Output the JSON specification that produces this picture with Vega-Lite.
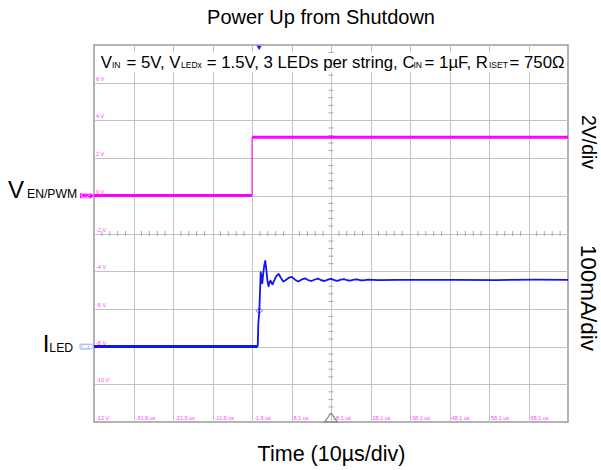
{
  "$schema": "https://vega.github.io/schema/vega-lite/v6.json",
  "width": 474,
  "height": 377,
  "autosize": {"type": "none"},
  "padding": {"left": 94, "top": 45, "right": 33, "bottom": 48},
  "background": "white",
  "config": {"font": "Liberation Sans", "view": {"stroke": "#9a9a9a", "strokeWidth": 1.5}},
  "title": {"text": "Power Up from Shutdown", "fontSize": 20, "fontWeight": "normal", "color": "black", "anchor": "middle", "offset": 17, "dx": -10, "font": "Liberation Sans"},
  "datasets": {
    "box": [{"t": -40.6, "t2": 76.8, "v": 6.55, "v2": 7.6}],
    "mag": [
      {"t": -41.9, "v": 0.02, "p": "a"}, {"t": -1.9, "v": 0.02, "p": "a"},
      {"t": -1.9, "v": 3.1, "p": "b"}, {"t": 78.1, "v": 3.1, "p": "b"}
    ],
    "magStep": [{"t": -1.9, "v": 0.02, "v2": 3.1}],
    "ledBase": [{"t": -41.9, "v": -8.0}, {"t": -0.45, "v": -8.0}],
    "ledRise": [
      {"t": -0.45, "v": -8.0}, {"t": -0.3, "v": -6.8}, {"t": -0.05, "v": -6.1}, {"t": 0.15, "v": -5.0},
      {"t": 0.3, "v": -4.05}, {"t": 0.5, "v": -4.3}, {"t": 0.7, "v": -4.65}, {"t": 0.95, "v": -4.1},
      {"t": 1.2, "v": -3.7}, {"t": 1.45, "v": -3.45}, {"t": 1.7, "v": -3.85}, {"t": 2.0, "v": -4.5},
      {"t": 2.3, "v": -4.8}, {"t": 2.6, "v": -4.55}, {"t": 2.8, "v": -4.5}, {"t": 3.05, "v": -4.62},
      {"t": 3.3, "v": -4.7}, {"t": 3.7, "v": -4.5}, {"t": 4.3, "v": -4.25}, {"t": 4.85, "v": -4.15},
      {"t": 5.4, "v": -4.35}, {"t": 6.0, "v": -4.55}, {"t": 6.6, "v": -4.48}, {"t": 7.4, "v": -4.35},
      {"t": 8.15, "v": -4.3}, {"t": 9.0, "v": -4.45}, {"t": 9.8, "v": -4.55}, {"t": 10.6, "v": -4.45},
      {"t": 11.5, "v": -4.38}, {"t": 12.3, "v": -4.47}, {"t": 13.15, "v": -4.52}, {"t": 14.0, "v": -4.44},
      {"t": 14.8, "v": -4.39}, {"t": 15.6, "v": -4.48}, {"t": 16.45, "v": -4.52}, {"t": 17.3, "v": -4.45},
      {"t": 18.1, "v": -4.41}, {"t": 19.0, "v": -4.48}, {"t": 19.75, "v": -4.51}, {"t": 20.6, "v": -4.45},
      {"t": 21.4, "v": -4.42}, {"t": 22.2, "v": -4.48}, {"t": 23.0, "v": -4.5}, {"t": 23.9, "v": -4.45},
      {"t": 24.7, "v": -4.43}, {"t": 25.5, "v": -4.48}, {"t": 26.3, "v": -4.49}, {"t": 27.5, "v": -4.45},
      {"t": 30.0, "v": -4.47}, {"t": 35.0, "v": -4.46}, {"t": 40.0, "v": -4.46}, {"t": 50.0, "v": -4.46},
      {"t": 60.0, "v": -4.47}, {"t": 70.0, "v": -4.45}, {"t": 78.1, "v": -4.46}
    ],
    "diamond": [{"t": -0.05, "v": -6.1}],
    "mtx": [
      {"t": -39.9, "v": -2}, {"t": -37.9, "v": -2}, {"t": -35.9, "v": -2}, {"t": -33.9, "v": -2},
      {"t": -29.9, "v": -2}, {"t": -27.9, "v": -2}, {"t": -25.9, "v": -2}, {"t": -23.9, "v": -2},
      {"t": -19.9, "v": -2}, {"t": -17.9, "v": -2}, {"t": -15.9, "v": -2}, {"t": -13.9, "v": -2},
      {"t": -9.9, "v": -2}, {"t": -7.9, "v": -2}, {"t": -5.9, "v": -2}, {"t": -3.9, "v": -2},
      {"t": 0.1, "v": -2}, {"t": 2.1, "v": -2}, {"t": 4.1, "v": -2}, {"t": 6.1, "v": -2},
      {"t": 10.1, "v": -2}, {"t": 12.1, "v": -2}, {"t": 14.1, "v": -2}, {"t": 16.1, "v": -2},
      {"t": 20.1, "v": -2}, {"t": 22.1, "v": -2}, {"t": 24.1, "v": -2}, {"t": 26.1, "v": -2},
      {"t": 30.1, "v": -2}, {"t": 32.1, "v": -2}, {"t": 34.1, "v": -2}, {"t": 36.1, "v": -2},
      {"t": 40.1, "v": -2}, {"t": 42.1, "v": -2}, {"t": 44.1, "v": -2}, {"t": 46.1, "v": -2},
      {"t": 50.1, "v": -2}, {"t": 52.1, "v": -2}, {"t": 54.1, "v": -2}, {"t": 56.1, "v": -2},
      {"t": 60.1, "v": -2}, {"t": 62.1, "v": -2}, {"t": 64.1, "v": -2}, {"t": 66.1, "v": -2},
      {"t": 70.1, "v": -2}, {"t": 72.1, "v": -2}, {"t": 74.1, "v": -2}, {"t": 76.1, "v": -2}
    ],
    "mty": [
      {"t": 18.1, "v": -11.6}, {"t": 18.1, "v": -11.2}, {"t": 18.1, "v": -10.8}, {"t": 18.1, "v": -10.4},
      {"t": 18.1, "v": -9.6}, {"t": 18.1, "v": -9.2}, {"t": 18.1, "v": -8.8}, {"t": 18.1, "v": -8.4},
      {"t": 18.1, "v": -7.6}, {"t": 18.1, "v": -7.2}, {"t": 18.1, "v": -6.8}, {"t": 18.1, "v": -6.4},
      {"t": 18.1, "v": -5.6}, {"t": 18.1, "v": -5.2}, {"t": 18.1, "v": -4.8}, {"t": 18.1, "v": -4.4},
      {"t": 18.1, "v": -3.6}, {"t": 18.1, "v": -3.2}, {"t": 18.1, "v": -2.8}, {"t": 18.1, "v": -2.4},
      {"t": 18.1, "v": -1.6}, {"t": 18.1, "v": -1.2}, {"t": 18.1, "v": -0.8}, {"t": 18.1, "v": -0.4},
      {"t": 18.1, "v": 0.4}, {"t": 18.1, "v": 0.8}, {"t": 18.1, "v": 1.2}, {"t": 18.1, "v": 1.6},
      {"t": 18.1, "v": 2.4}, {"t": 18.1, "v": 2.8}, {"t": 18.1, "v": 3.2}, {"t": 18.1, "v": 3.6},
      {"t": 18.1, "v": 4.4}, {"t": 18.1, "v": 4.8}, {"t": 18.1, "v": 5.2}, {"t": 18.1, "v": 5.6},
      {"t": 18.1, "v": 6.4}, {"t": 18.1, "v": 6.8}, {"t": 18.1, "v": 7.2}, {"t": 18.1, "v": 7.6}
    ],
    "lbl": [
      {"t": -41.9, "v": 6, "s": "6 V"}, {"t": -41.9, "v": 4, "s": "4 V"}, {"t": -41.9, "v": 2, "s": "2 V"},
      {"t": -41.9, "v": 0, "s": "0 V"}, {"t": -41.9, "v": -2, "s": "-2 V"}, {"t": -41.9, "v": -4, "s": "-4 V"},
      {"t": -41.9, "v": -6, "s": "-6 V"}, {"t": -41.9, "v": -8, "s": "-8 V"}, {"t": -41.9, "v": -10, "s": "-10 V"},
      {"t": -41.9, "v": -12, "s": "-12 V"},
      {"t": -31.9, "v": -12, "s": "-31.9 us"}, {"t": -21.9, "v": -12, "s": "-21.9 us"}, {"t": -11.9, "v": -12, "s": "-11.9 us"},
      {"t": -1.9, "v": -12, "s": "-1.9 us"}, {"t": 8.1, "v": -12, "s": "8.1 us"}, {"t": 18.1, "v": -12, "s": "18.1 us"},
      {"t": 28.1, "v": -12, "s": "28.1 us"}, {"t": 38.1, "v": -12, "s": "38.1 us"}, {"t": 48.1, "v": -12, "s": "48.1 us"},
      {"t": 58.1, "v": -12, "s": "58.1 us"}, {"t": 68.1, "v": -12, "s": "68.1 us"}
    ],
    "hdr": [
      {"s": "V", "t": -40.2, "v": 6.78, "k": "m"},
      {"s": "IN", "t": -37.37, "v": 6.78, "k": "s"},
      {"s": "= 5V, V", "t": -33.67, "v": 6.78, "k": "m"},
      {"s": "LEDx", "t": -19.88, "v": 6.78, "k": "s"},
      {"s": "= 1.5V, 3 LEDs per string, C", "t": -13.37, "v": 6.78, "k": "m"},
      {"s": "IN", "t": 38.96, "v": 6.78, "k": "s"},
      {"s": "= 1µF, R", "t": 41.8, "v": 6.78, "k": "m"},
      {"s": "ISET", "t": 58.1, "v": 6.78, "k": "s"},
      {"s": "= 750Ω", "t": 63.3, "v": 6.78, "k": "m"}
    ],
    "side": [
      {"s": "V", "t": -63.7, "v": -0.12, "k": "m"},
      {"s": "EN/PWM", "t": -58.86, "v": -0.12, "k": "s"},
      {"s": "I", "t": -54.9, "v": -8.29, "k": "m"},
      {"s": "LED", "t": -53.2, "v": -8.29, "k": "s"}
    ],
    "rt": [
      {"s": "2V/div", "t": 83.1, "v": 2.85, "k": "a"},
      {"s": "100mA/div", "t": 83.1, "v": -5.42, "k": "b"}
    ],
    "ch": [
      {"t": -41.9, "v": 0, "c": "C2"},
      {"t": -41.9, "v": -8, "c": "C1"}
    ],
    "trig": [{"t": -0.1, "v": 8}],
    "ref": [{"t": 18.1, "v": -12}]
  },
  "encoding": {
    "x": {"field": "t", "type": "quantitative",
      "scale": {"domain": [-41.9, 78.1], "nice": false, "zero": false},
      "axis": {"values": [-31.9, -21.9, -11.9, -1.9, 8.1, 18.1, 28.1, 38.1, 48.1, 58.1, 68.1],
        "grid": true, "gridColor": "#c3c3c3", "gridWidth": 1, "labels": false, "ticks": false, "domain": false,
        "title": "Time (10µs/div)", "titleFontSize": 21.5, "titleFontWeight": "normal", "titlePadding": 21,
        "titleColor": "black", "titleFont": "Liberation Sans"}},
    "y": {"field": "v", "type": "quantitative",
      "scale": {"domain": [-12, 8], "nice": false, "zero": false},
      "axis": {"values": [-10, -8, -6, -4, -2, 0, 2, 4, 6], "grid": true, "gridColor": "#c3c3c3", "gridWidth": 1,
        "labels": false, "ticks": false, "domain": false, "title": null}}
  },
  "layer": [
    {"data": {"name": "box"}, "mark": {"type": "rect", "fill": "white"},
      "encoding": {"x2": {"field": "t2"}, "y2": {"field": "v2"}}},
    {"data": {"name": "mtx"}, "mark": {"type": "tick", "orient": "vertical", "size": 5, "thickness": 1, "color": "#a8a8a8", "opacity": 1}},
    {"data": {"name": "mty"}, "mark": {"type": "tick", "orient": "horizontal", "size": 5, "thickness": 1, "color": "#a8a8a8", "opacity": 1}},
    {"data": {"name": "lbl"}, "mark": {"type": "text", "fontSize": 5.5, "color": "#ff40ff", "align": "left", "baseline": "alphabetic", "dx": 2, "dy": -2},
      "encoding": {"text": {"field": "s"}}},
    {"data": {"name": "magStep"}, "mark": {"type": "rule", "color": "#ff00ff", "strokeWidth": 1},
      "encoding": {"y2": {"field": "v2"}}},
    {"data": {"name": "mag"}, "mark": {"type": "line", "color": "#ff00ff", "strokeWidth": 3},
      "encoding": {"detail": {"field": "p"}}},
    {"data": {"name": "ledBase"}, "mark": {"type": "line", "color": "#1414f0", "strokeWidth": 3}},
    {"data": {"name": "ledRise"}, "mark": {"type": "line", "color": "#1414f0", "strokeWidth": 1.8, "strokeJoin": "round"}},
    {"data": {"name": "diamond"}, "mark": {"type": "point", "shape": "diamond", "filled": false, "color": "#3030ff", "size": 40, "strokeWidth": 1}},
    {"data": {"name": "trig"}, "mark": {"type": "point", "shape": "triangle-down", "filled": true, "color": "#2020ff", "size": 25, "yOffset": 3, "opacity": 1}},
    {"data": {"name": "ref"}, "mark": {"type": "point", "shape": "M-1,0.7L0,-0.7L1,0.7Z", "filled": false, "color": "#8c8c8c", "size": 169, "yOffset": -4.5, "strokeWidth": 1.2, "opacity": 1}},
    {"data": {"name": "ch"}, "transform": [{"filter": "datum.c == 'C2'"}],
      "mark": {"type": "point", "shape": "M-1,-0.35L0.55,-0.35L1,0L0.55,0.35L-1,0.35Z", "filled": true, "color": "#ff00ff", "size": 196, "xOffset": -7, "opacity": 1}},
    {"data": {"name": "ch"}, "transform": [{"filter": "datum.c == 'C1'"}],
      "mark": {"type": "point", "shape": "M-1,-0.35L0.55,-0.35L1,0L0.55,0.35L-1,0.35Z", "filled": false, "color": "#a8b0ff", "strokeWidth": 1, "size": 196, "xOffset": -7, "opacity": 1}},
    {"data": {"name": "ch"}, "transform": [{"filter": "datum.c == 'C2'"}],
      "mark": {"type": "text", "fontSize": 7.5, "color": "white", "dx": -8.5, "align": "center", "baseline": "middle"},
      "encoding": {"text": {"field": "c"}}},
    {"data": {"name": "ch"}, "transform": [{"filter": "datum.c == 'C1'"}],
      "mark": {"type": "text", "fontSize": 7.5, "color": "#a8b0ff", "dx": -8.5, "align": "center", "baseline": "middle"},
      "encoding": {"text": {"field": "c"}}},
    {"data": {"name": "hdr"}, "transform": [{"filter": "datum.k == 'm'"}],
      "mark": {"type": "text", "fontSize": 16.8, "color": "black", "align": "left", "baseline": "alphabetic"},
      "encoding": {"text": {"field": "s"}}},
    {"data": {"name": "hdr"}, "transform": [{"filter": "datum.k == 's'"}],
      "mark": {"type": "text", "fontSize": 8.5, "color": "black", "align": "left", "baseline": "alphabetic"},
      "encoding": {"text": {"field": "s"}}},
    {"data": {"name": "side"}, "transform": [{"filter": "datum.k == 'm'"}],
      "mark": {"type": "text", "fontSize": 24, "color": "black", "align": "left", "baseline": "alphabetic"},
      "encoding": {"text": {"field": "s"}}},
    {"data": {"name": "side"}, "transform": [{"filter": "datum.k == 's'"}],
      "mark": {"type": "text", "fontSize": 12.2, "color": "black", "align": "left", "baseline": "alphabetic"},
      "encoding": {"text": {"field": "s"}}},
    {"data": {"name": "rt"}, "transform": [{"filter": "datum.k == 'a'"}],
      "mark": {"type": "text", "fontSize": 19.5, "color": "black", "angle": 90, "align": "center", "baseline": "middle"},
      "encoding": {"text": {"field": "s"}}},
    {"data": {"name": "rt"}, "transform": [{"filter": "datum.k == 'b'"}],
      "mark": {"type": "text", "fontSize": 22.5, "color": "black", "angle": 90, "align": "center", "baseline": "middle"},
      "encoding": {"text": {"field": "s"}}}
  ]
}
